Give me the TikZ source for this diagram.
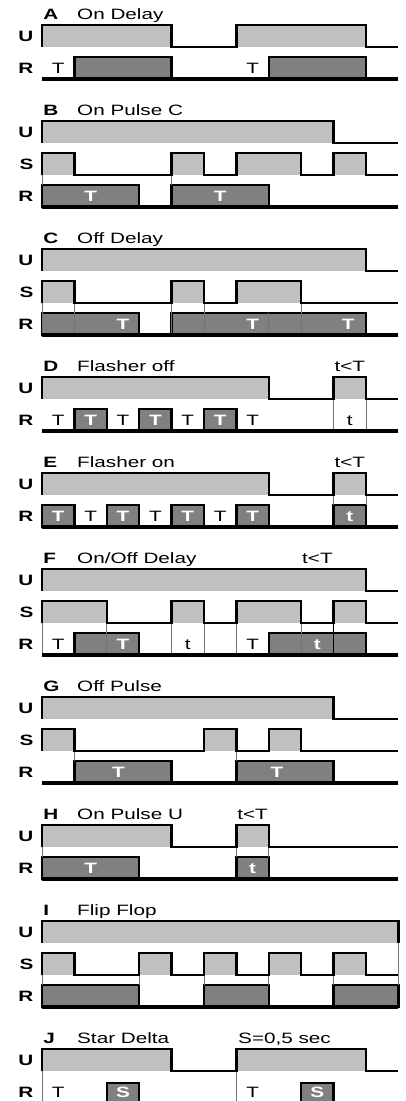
\documentclass[tikz,border=0pt]{standalone}
\usepackage{fontspec}
\setmainfont{Liberation Sans}[FakeStretch=1.38]
\usepackage{xcolor}
\usepackage{tikz}
\definecolor{sigfill}{RGB}{192,192,192}
\definecolor{relayfill}{RGB}{128,128,128}
\tikzstyle{wave} = [line width=2.5pt, line join=miter, black]
\tikzstyle{groundline} = [line width=4.4pt, black]
\tikzstyle{relaybox} = [fill=relayfill, draw=black, line width=2.5pt]
\tikzstyle{guideline} = [line width=0.8pt, black!55]
\tikzstyle{siglabel} = [font=\fontsize{15}{17}\selectfont\bfseries, anchor=east, inner sep=0pt]
\tikzstyle{titleletter} = [font=\fontsize{15}{17}\selectfont\bfseries, anchor=base west, inner sep=0pt]
\tikzstyle{titletext} = [font=\fontsize{15}{17}\selectfont, anchor=base west, inner sep=0pt]
\tikzstyle{timetext} = [font=\fontsize{15}{17}\selectfont, inner sep=0pt]
\tikzstyle{boxtext} = [font=\fontsize{15}{17}\selectfont\bfseries, text=white, inner sep=0pt]

\begin{document}
\begin{tikzpicture}[x=32.4pt, y=-32pt]
\useasboundingbox (-1.2963,-0.78125) rectangle (11.2346,33.625);
\clip (-1.2963,-0.78125) rectangle (11.2346,33.625);

% A: on delay
\begin{scope}[shift={(0,0)}]
\fill[sigfill] (0,0) rectangle (4,.68) (6,0) rectangle (10,.68);
\draw[relaybox] (1,1) rectangle (4,1.68) (7,1) rectangle (10,1.68);
\draw[wave] (0,.68) |- (4,0) |- (6,.68) |- (10,0) |- (11,.68);
\draw[groundline] (0,1.68) -- (11,1.68);
\node[titleletter] (letterA) at (.04,-.16) {A};
\node[titletext] (ondelay) at (1.08,-.16) {On Delay};
\node[siglabel] (ondelayU) at (-.26,.36) {U};
\node[siglabel] (ondelayR) at (-.26,1.36) {R};
\node[timetext] (ondelayT1) at (.5,1.36) {T};
\node[timetext] (ondelayT2) at (6.5,1.36) {T};
\end{scope}

% B: on pulse C
\begin{scope}[shift={(0,3)}]
\fill[sigfill] (0,0) rectangle (9,.68);
\fill[sigfill] (0,1) rectangle (1,1.68) (4,1) rectangle (5,1.68) (6,1) rectangle (8,1.68) (9,1) rectangle (10,1.68);
\draw[relaybox] (0,2) rectangle (3,2.68) (4,2) rectangle (7,2.68);
\draw[guideline] (0,1.68) -- (0,2) (4,1.68) -- (4,2);
\draw[wave] (0,.68) |- (9,0) |- (11,.68);
\draw[wave] (0,1.68) |- (1,1) |- (4,1.68) |- (5,1) |- (6,1.68) |- (8,1) |- (9,1.68) |- (10,1) |- (11,1.68);
\draw[groundline] (0,2.68) -- (11,2.68);
\node[titleletter] (letterB) at (.04,-.16) {B};
\node[titletext] (onpulsec) at (1.08,-.16) {On Pulse C};
\node[siglabel] (onpulsecU) at (-.26,.36) {U};
\node[siglabel] (onpulsecS) at (-.26,1.36) {S};
\node[siglabel] (onpulsecR) at (-.26,2.36) {R};
\node[boxtext] (onpulsecT1) at (1.5,2.36) {T};
\node[boxtext] (onpulsecT2) at (5.5,2.36) {T};
\end{scope}

% C: off delay
\begin{scope}[shift={(0,7)}]
\fill[sigfill] (0,0) rectangle (10,.68);
\fill[sigfill] (0,1) rectangle (1,1.68) (4,1) rectangle (5,1.68) (6,1) rectangle (8,1.68);
\draw[relaybox] (0,2) rectangle (3,2.68) (4,2) rectangle (10,2.68);
\draw[guideline] (0,1.68) -- (0,2.68) (1,1.68) -- (1,2.68) (4,1.68) -- (4,2.68)
  (5,1.68) -- (5,2.68) (8,1.68) -- (8,2.68) (7,2) -- (7,2.68);
\draw[wave] (0,.68) |- (10,0) |- (11,.68);
\draw[wave] (0,1.68) |- (1,1) |- (4,1.68) |- (5,1) |- (6,1.68) |- (8,1) |- (11,1.68);
\draw[groundline] (0,2.68) -- (11,2.68);
\node[titleletter] (letterC) at (.04,-.16) {C};
\node[titletext] (offdelay) at (1.08,-.16) {Off Delay};
\node[siglabel] (offdelayU) at (-.26,.36) {U};
\node[siglabel] (offdelayS) at (-.26,1.36) {S};
\node[siglabel] (offdelayR) at (-.26,2.36) {R};
\node[boxtext] (offdelayT1) at (2.5,2.36) {T};
\node[boxtext] (offdelayT2) at (6.5,2.36) {T};
\node[boxtext] (offdelayT3) at (9.45,2.36) {T};
\end{scope}

% D: flasher off
\begin{scope}[shift={(0,11)}]
\fill[sigfill] (0,0) rectangle (7,.68) (9,0) rectangle (10,.68);
\draw[relaybox] (1,1) rectangle (2,1.68) (3,1) rectangle (4,1.68) (5,1) rectangle (6,1.68);
\draw[guideline] (9,.68) -- (9,1.68) (10,.68) -- (10,1.68);
\draw[wave] (0,.68) |- (7,0) |- (9,.68) |- (10,0) |- (11,.68);
\draw[groundline] (0,1.68) -- (11,1.68);
\node[titleletter] (letterD) at (.04,-.16) {D};
\node[titletext] (flasheroff) at (1.08,-.16) {Flasher off};
\node[timetext, anchor=base] (flasheroffnote) at (9.5,-.16) {t<T};
\node[siglabel] (flasheroffU) at (-.26,.36) {U};
\node[siglabel] (flasheroffR) at (-.26,1.36) {R};
\node[timetext] (flasheroffT1) at (.5,1.36) {T};
\node[boxtext] (flasheroffT2) at (1.5,1.36) {T};
\node[timetext] (flasheroffT3) at (2.5,1.36) {T};
\node[boxtext] (flasheroffT4) at (3.5,1.36) {T};
\node[timetext] (flasheroffT5) at (4.5,1.36) {T};
\node[boxtext] (flasheroffT6) at (5.5,1.36) {T};
\node[timetext] (flasheroffT7) at (6.5,1.36) {T};
\node[timetext] (flasherofft) at (9.5,1.36) {t};
\end{scope}

% E: flasher on
\begin{scope}[shift={(0,14)}]
\fill[sigfill] (0,0) rectangle (7,.68) (9,0) rectangle (10,.68);
\draw[relaybox] (0,1) rectangle (1,1.68) (2,1) rectangle (3,1.68) (4,1) rectangle (5,1.68)
  (6,1) rectangle (7,1.68) (9,1) rectangle (10,1.68);
\draw[guideline] (9,.68) -- (9,1) (10,.68) -- (10,1);
\draw[wave] (0,.68) |- (7,0) |- (9,.68) |- (10,0) |- (11,.68);
\draw[groundline] (0,1.68) -- (11,1.68);
\node[titleletter] (letterE) at (.04,-.16) {E};
\node[titletext] (flasheron) at (1.08,-.16) {Flasher on};
\node[timetext, anchor=base] (flasheronnote) at (9.5,-.16) {t<T};
\node[siglabel] (flasheronU) at (-.26,.36) {U};
\node[siglabel] (flasheronR) at (-.26,1.36) {R};
\node[boxtext] (flasheronT1) at (.5,1.36) {T};
\node[timetext] (flasheronT2) at (1.5,1.36) {T};
\node[boxtext] (flasheronT3) at (2.5,1.36) {T};
\node[timetext] (flasheronT4) at (3.5,1.36) {T};
\node[boxtext] (flasheronT5) at (4.5,1.36) {T};
\node[timetext] (flasheronT6) at (5.5,1.36) {T};
\node[boxtext] (flasheronT7) at (6.5,1.36) {T};
\node[boxtext] (flasheront) at (9.5,1.36) {t};
\end{scope}

% F: on/off delay
\begin{scope}[shift={(0,17)}]
\fill[sigfill] (0,0) rectangle (10,.68);
\fill[sigfill] (0,1) rectangle (2,1.68) (4,1) rectangle (5,1.68) (6,1) rectangle (8,1.68) (9,1) rectangle (10,1.68);
\draw[relaybox] (1,2) rectangle (3,2.68) (7,2) rectangle (10,2.68);
\draw[guideline] (0,1.68) -- (0,2.68) (2,1.68) -- (2,2.68) (4,1.68) -- (4,2.68) (5,1.68) -- (5,2.68)
  (6,1.68) -- (6,2.68) (8,1.68) -- (8,2.68);
\draw[guideline, black] (9,1.68) -- (9,2.68);
\draw[wave] (0,.68) |- (10,0) |- (11,.68);
\draw[wave] (0,1.68) |- (2,1) |- (4,1.68) |- (5,1) |- (6,1.68) |- (8,1) |- (9,1.68) |- (10,1) |- (11,1.68);
\draw[groundline] (0,2.68) -- (11,2.68);
\node[titleletter] (letterF) at (.04,-.16) {F};
\node[titletext] (onoffdelay) at (1.08,-.16) {On/Off Delay};
\node[timetext, anchor=base] (onoffdelaynote) at (8.5,-.16) {t<T};
\node[siglabel] (onoffdelayU) at (-.26,.36) {U};
\node[siglabel] (onoffdelayS) at (-.26,1.36) {S};
\node[siglabel] (onoffdelayR) at (-.26,2.36) {R};
\node[timetext] (onoffdelayT1) at (.5,2.36) {T};
\node[boxtext] (onoffdelayT2) at (2.5,2.36) {T};
\node[timetext] (onoffdelayt1) at (4.5,2.36) {t};
\node[timetext] (onoffdelayT3) at (6.5,2.36) {T};
\node[boxtext] (onoffdelayt2) at (8.5,2.36) {t};
\end{scope}

% G: off pulse
\begin{scope}[shift={(0,21)}]
\fill[sigfill] (0,0) rectangle (9,.68);
\fill[sigfill] (0,1) rectangle (1,1.68) (5,1) rectangle (6,1.68) (7,1) rectangle (8,1.68);
\draw[relaybox] (1,2) rectangle (4,2.68) (6,2) rectangle (9,2.68);
\draw[guideline] (1,1.68) -- (1,2) (6,1.68) -- (6,2);
\draw[wave] (0,.68) |- (9,0) |- (11,.68);
\draw[wave] (0,1.68) |- (1,1) |- (5,1.68) |- (6,1) |- (7,1.68) |- (8,1) |- (11,1.68);
\draw[groundline] (0,2.68) -- (11,2.68);
\node[titleletter] (letterG) at (.04,-.16) {G};
\node[titletext] (offpulse) at (1.08,-.16) {Off Pulse};
\node[siglabel] (offpulseU) at (-.26,.36) {U};
\node[siglabel] (offpulseS) at (-.26,1.36) {S};
\node[siglabel] (offpulseR) at (-.26,2.36) {R};
\node[boxtext] (offpulseT1) at (2.36,2.36) {T};
\node[boxtext] (offpulseT2) at (7.25,2.36) {T};
\end{scope}

% H: on pulse U
\begin{scope}[shift={(0,25)}]
\fill[sigfill] (0,0) rectangle (4,.68) (6,0) rectangle (7,.68);
\draw[relaybox] (0,1) rectangle (3,1.68) (6,1) rectangle (7,1.68);
\draw[guideline] (0,.68) -- (0,1) (6,.68) -- (6,1) (7,.68) -- (7,1);
\draw[wave] (0,.68) |- (4,0) |- (6,.68) |- (7,0) |- (11,.68);
\draw[groundline] (0,1.68) -- (11,1.68);
\node[titleletter] (letterH) at (.04,-.16) {H};
\node[titletext] (onpulseu) at (1.08,-.16) {On Pulse U};
\node[timetext, anchor=base] (onpulseunote) at (6.5,-.16) {t<T};
\node[siglabel] (onpulseuU) at (-.26,.36) {U};
\node[siglabel] (onpulseuR) at (-.26,1.36) {R};
\node[boxtext] (onpulseuT) at (1.5,1.36) {T};
\node[boxtext] (onpulseut) at (6.5,1.36) {t};
\end{scope}

% I: flip flop
\begin{scope}[shift={(0,28)}]
\fill[sigfill] (0,0) rectangle (11,.68);
\fill[sigfill] (0,1) rectangle (1,1.68) (3,1) rectangle (4,1.68) (5,1) rectangle (6,1.68)
  (7,1) rectangle (8,1.68) (9,1) rectangle (10,1.68);
\draw[relaybox] (0,2) rectangle (3,2.68) (5,2) rectangle (7,2.68) (9,2) rectangle (11,2.68);
\draw[guideline] (0,1.68) -- (0,2) (3,1.68) -- (3,2) (5,1.68) -- (5,2) (7,1.68) -- (7,2)
  (9,1.68) -- (9,2) (11,.68) -- (11,2);
\draw[wave] (0,.68) |- (11,0) -- (11,.68);
\draw[wave] (0,1.68) |- (1,1) |- (3,1.68) |- (4,1) |- (5,1.68) |- (6,1) |- (7,1.68) |- (8,1)
  |- (9,1.68) |- (10,1) |- (11,1.68);
\draw[groundline] (0,2.68) -- (11,2.68);
\node[titleletter] (letterI) at (.04,-.16) {I};
\node[titletext] (flipflop) at (1.08,-.16) {Flip Flop};
\node[siglabel] (flipflopU) at (-.26,.36) {U};
\node[siglabel] (flipflopS) at (-.26,1.36) {S};
\node[siglabel] (flipflopR) at (-.26,2.36) {R};
\end{scope}

% J: star delta
\begin{scope}[shift={(0,32)}]
\fill[sigfill] (0,0) rectangle (4,.68) (6,0) rectangle (10,.68);
\draw[relaybox] (2,1.06) rectangle (3,1.74) (8,1.06) rectangle (9,1.74);
\draw[guideline] (0,.68) -- (0,1.74) (6,.68) -- (6,1.74);
\draw[wave] (0,.68) |- (4,0) |- (6,.68) |- (10,0) |- (11,.68);
\draw[groundline] (0,1.74) -- (11,1.74);
\node[titleletter] (letterJ) at (.04,-.16) {J};
\node[titletext] (stardelta) at (1.08,-.16) {Star Delta};
\node[titletext] (stardeltanote) at (6.05,-.16) {S=0,5 sec};
\node[siglabel] (stardeltaU) at (-.26,.36) {U};
\node[siglabel] (stardeltaR) at (-.26,1.36) {R};
\node[timetext] (stardeltaT1) at (.5,1.36) {T};
\node[boxtext] (stardeltaS1) at (2.5,1.36) {S};
\node[timetext] (stardeltaT2) at (6.5,1.36) {T};
\node[boxtext] (stardeltaS2) at (8.5,1.36) {S};
\end{scope}
\end{tikzpicture}
\end{document}
